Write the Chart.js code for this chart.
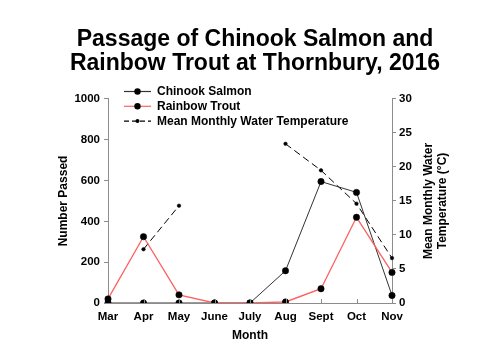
<!DOCTYPE html>
<html>
<head>
<meta charset="utf-8">
<script src="https://cdn.jsdelivr.net/npm/chart.js@4/dist/chart.umd.min.js"></script>
<style>
  body { margin: 0; background: #fff; }
  #wrap { width: 500px; height: 353px; }
</style>
</head>
<body>
<div id="wrap"><canvas id="chart" width="500" height="353"></canvas></div>
<script>
// datos
const months = ['Mar', 'Apr', 'May', 'June', 'July', 'Aug', 'Sept', 'Oct', 'Nov'];
const chinook = [0, 0, 0, 0, 0, 158, 595, 542, 37];
const rainbow = [20, 325, 40, 0, 0, 5, 70, 420, 150];
const waterTemp = [null, 7.9, 14.3, null, null, 23.4, 19.5, 14.6, 6.6];
const leftTicks = [0, 200, 400, 600, 800, 1000];
const rightTicks = [0, 5, 10, 15, 20, 25, 30];

const FONT = 'Arial, "Liberation Sans", sans-serif';
const AXIS_GRAY = '#8c8c8c';

// Leyenda dibujada dentro del area del grafico
const legendPlugin = {
    id: 'insideLegend',
    afterDraw(chart) {
        const ctx = chart.ctx;
        const rows = [
            { label: 'Chinook Salmon', color: '#333333', dash: [], r: 3.2 },
            { label: 'Rainbow Trout', color: '#ff6060', dash: [], r: 3.2 },
            { label: 'Mean Monthly Water Temperature', color: '#000000', dash: [5, 3], r: 2 }
        ];
        ctx.save();
        rows.forEach((row, i) => {
            const y = 91.5 + i * 14.8;
            ctx.strokeStyle = row.color;
            ctx.lineWidth = 1.2;
            ctx.setLineDash(row.dash);
            ctx.beginPath();
            ctx.moveTo(124, y);
            ctx.lineTo(151, y);
            ctx.stroke();
            ctx.setLineDash([]);
            ctx.fillStyle = '#000';
            ctx.beginPath();
            ctx.arc(137.5, y, row.r, 0, Math.PI * 2);
            ctx.fill();
            ctx.font = 'bold 12px ' + FONT;
            ctx.textBaseline = 'middle';
            ctx.textAlign = 'left';
            ctx.fillText(row.label, 157, y + 0.5);
        });
        ctx.restore();
    }
};

// Titulo del eje derecho (se lee de abajo hacia arriba) y marcas internas del eje x
const extrasPlugin = {
    id: 'extras',
    afterDraw(chart) {
        const ctx = chart.ctx;
        const x = chart.scales.x;
        const area = chart.chartArea;
        ctx.save();
        ctx.strokeStyle = AXIS_GRAY;
        ctx.lineWidth = 1;
        for (let i = 1; i < months.length - 1; i++) {
            const px = Math.round(x.getPixelForValue(i)) + 0.5;
            ctx.beginPath();
            ctx.moveTo(px, area.bottom);
            ctx.lineTo(px, area.bottom - 4);
            ctx.stroke();
        }
        ctx.translate(436, 201);
        ctx.rotate(-Math.PI / 2);
        ctx.fillStyle = '#000';
        ctx.font = 'bold 12px ' + FONT;
        ctx.textAlign = 'center';
        ctx.textBaseline = 'middle';
        ctx.fillText('Mean Monthly Water', 0, -7);
        ctx.fillText('Temperature (°C)', 0, 7);
        ctx.restore();
    }
};

const ctx = document.getElementById('chart').getContext('2d');
new Chart(ctx, {
    type: 'line',
    data: {
        labels: months,
        datasets: [
            {
                label: 'Rainbow Trout',
                data: rainbow,
                yAxisID: 'y',
                borderColor: '#ff6060',
                borderWidth: 1.3,
                pointBackgroundColor: '#000',
                pointBorderColor: '#000',
                pointBorderWidth: 0.5,
                pointRadius: 3.2,
                tension: 0,
                order: 0
            },
            {
                label: 'Chinook Salmon',
                data: chinook,
                yAxisID: 'y',
                borderColor: '#333333',
                borderWidth: 1,
                pointBackgroundColor: '#000',
                pointBorderColor: '#000',
                pointBorderWidth: 0.5,
                pointRadius: 3.2,
                tension: 0,
                order: 1
            },
            {
                label: 'Mean Monthly Water Temperature',
                data: waterTemp,
                yAxisID: 'y1',
                borderColor: '#000',
                borderWidth: 1,
                borderDash: [7, 4],
                pointBackgroundColor: '#000',
                pointBorderColor: '#000',
                pointBorderWidth: 0.5,
                pointRadius: 1.8,
                spanGaps: false,
                tension: 0,
                order: 2
            }
        ]
    },
    options: {
        responsive: false,
        animation: false,
        layout: { padding: { left: 10, right: 0, top: 0, bottom: 0 } },
        plugins: {
            legend: { display: false },
            tooltip: { enabled: false },
            title: {
                display: true,
                text: ['Passage of Chinook Salmon and', 'Rainbow Trout at Thornbury, 2016'],
                color: '#000',
                font: { family: FONT, size: 23, weight: 'bold', lineHeight: 1.02 },
                padding: { top: 28, bottom: 24 }
            }
        },
        scales: {
            x: {
                type: 'category',
                offset: false,
                afterFit: (scale) => { scale.height = 50; },
                border: { color: AXIS_GRAY, width: 1 },
                grid: { display: false, drawTicks: false },
                ticks: {
                    color: '#000',
                    font: { family: FONT, size: 11.5, weight: 'bold' },
                    padding: 7,
                    maxRotation: 0,
                    autoSkip: false
                },
                title: {
                    display: true,
                    text: 'Month',
                    color: '#000',
                    font: { family: FONT, size: 12, weight: 'bold' },
                    padding: { top: 0, bottom: 10 }
                }
            },
            y: {
                position: 'left',
                min: 0,
                max: 1000,
                afterFit: (scale) => { scale.width = 98; },
                afterBuildTicks: (scale) => { scale.ticks = leftTicks.map(v => ({ value: v })); },
                border: { color: AXIS_GRAY, width: 1 },
                grid: { drawOnChartArea: false, drawTicks: true, tickLength: 4, color: AXIS_GRAY },
                ticks: {
                    color: '#000',
                    font: { family: FONT, size: 11.5, weight: 'bold' },
                    padding: 4,
                    callback: (v) => String(v)
                },
                title: {
                    display: true,
                    text: 'Number Passed',
                    color: '#000',
                    font: { family: FONT, size: 12, weight: 'bold' },
                    padding: { top: 46, bottom: 0 }
                }
            },
            y1: {
                position: 'right',
                min: 0,
                max: 30,
                afterFit: (scale) => { scale.width = 108; },
                afterBuildTicks: (scale) => { scale.ticks = rightTicks.map(v => ({ value: v })); },
                border: { color: AXIS_GRAY, width: 1 },
                grid: { drawOnChartArea: false, drawTicks: true, tickLength: 4, color: AXIS_GRAY },
                ticks: {
                    color: '#000',
                    font: { family: FONT, size: 11.5, weight: 'bold' },
                    padding: 3,
                    callback: (v) => String(v)
                }
            }
        }
    },
    plugins: [legendPlugin, extrasPlugin]
});
</script>
</body>
</html>
